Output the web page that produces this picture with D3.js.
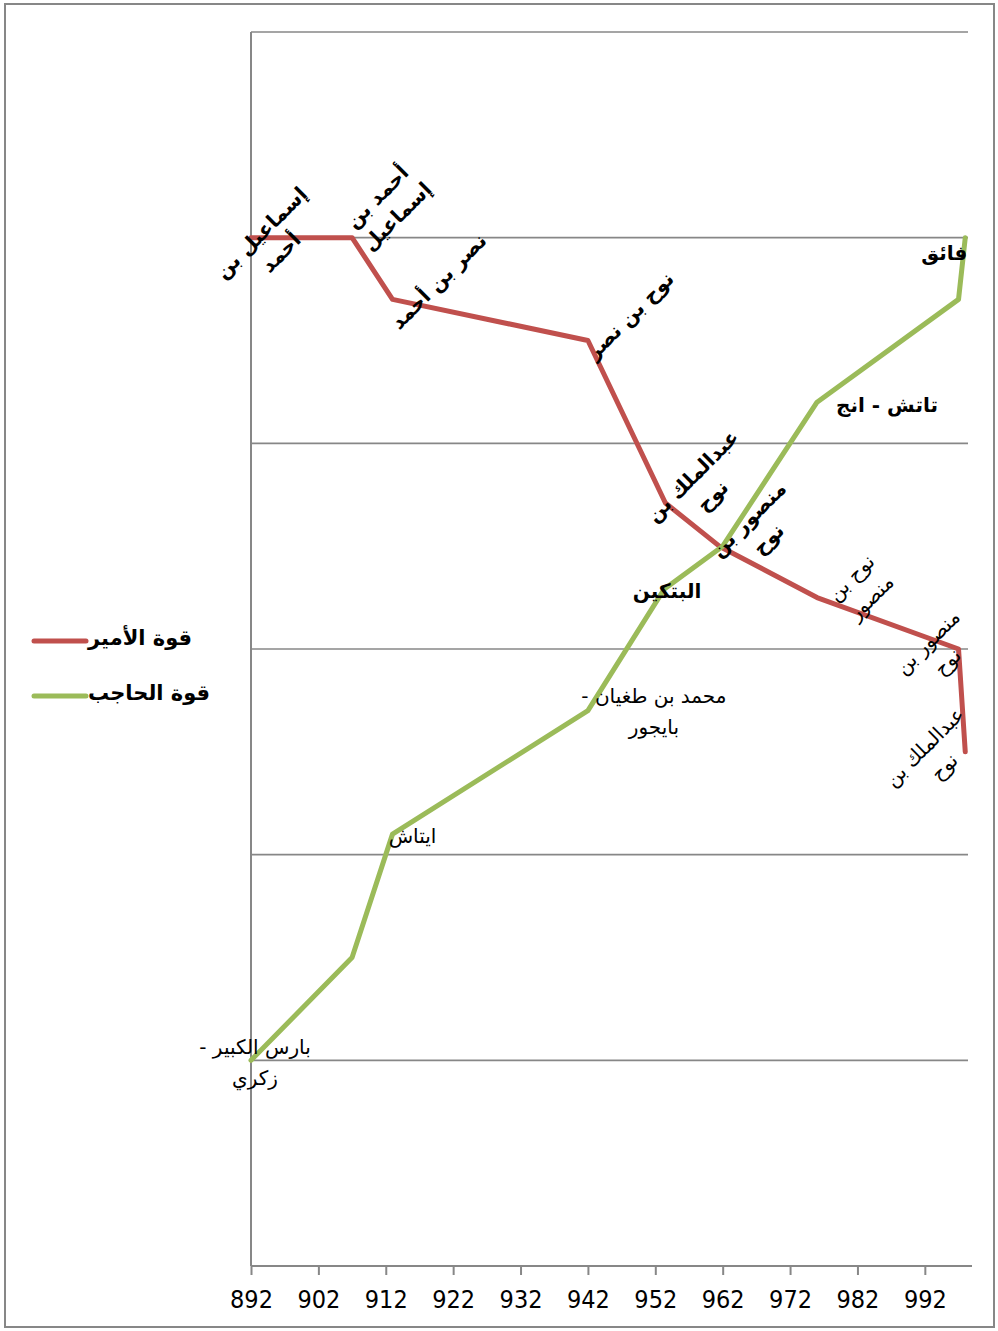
<!DOCTYPE html>
<html>
<head>
<meta charset="utf-8">
<script src="https://cdn.jsdelivr.net/npm/d3@7"></script>
<style>
  html, body { margin: 0; padding: 0; background: #fff; }
  svg { display: block; }
</style>
</head>
<body>
<svg id="chart" width="998" height="1331"></svg>
<script>
// ---------- data ----------
const seriesNames = ["قوة الأمير", "قوة الحاجب"];
const xTicks = [892, 902, 912, 922, 932, 942, 952, 962, 972, 982, 992];

const amirYears  = [892, 907, 913, 942, 953.5, 961.5, 976, 997, 998];
const amirValues = [5.0, 5.0, 4.7, 4.5, 3.71, 3.5, 3.25, 3.0, 2.5];
const amirLabels = [
  ["إسماعيل بن", "أحمد"],
  ["أحمد بن", "إسماعيل"],
  ["نصر بن أحمد"],
  ["نوح بن نصر"],
  ["عبدالملك بن", "نوح"],
  ["منصور بن", "نوح"],
  ["نوح بن", "منصور"],
  ["منصور بن", "نوح"],
  ["عبدالملك بن", "نوح"]
];

const hajibYears  = [892, 907, 913, 942, 953.3, 962, 976, 997, 998];
const hajibValues = [1.0, 1.5, 2.1, 2.7, 3.29, 3.5, 4.2, 4.7, 5.0];
const hajibLabels = [
  ["بارس الكبير -", "زكري"],
  [],
  ["ايتاش"],
  ["محمد بن طغيان -", "بايجور"],
  ["البتكين"],
  [],
  ["تاتش - انج"],
  [],
  ["فائق"]
];

// ---------- layout (label placement relative to point, styling) ----------
const amirLabelLayout = [
  {dx: 20, dy: 5, bold: true},
  {dx: 35, dy: -31, bold: true},
  {dx: 46, dy: -18, bold: true},
  {dx: 42, dy: -25, bold: true},
  {dx: 37, dy: -17, bold: true},
  {dx: 39, dy: -17, bold: true},
  {dx: 44, dy: -10, bold: false},
  {dx: -21, dy: 3, bold: false},
  {dx: -31, dy: 5, bold: false}
];
const hajibLabelLayout = [
  {dx: 4, dy: 2, bold: false},
  null,
  {dx: 20, dy: 2, bold: false},
  {dx: 66, dy: 1, bold: false},
  {dx: 3, dy: 2, bold: true},
  null,
  {dx: 70, dy: 3, bold: true},
  null,
  {dx: -21, dy: 15, bold: true}
];

const colors = ["#C0504D", "#9BBB59"];
const gridColor = "#878787";
const arabicFont = "'DejaVu Sans', 'Noto Sans', Arial, sans-serif";

const svg = d3.select("#chart");

// outer frame
svg.append("rect")
  .attr("x", 5).attr("y", 4).attr("width", 989).attr("height", 1323)
  .attr("fill", "none").attr("stroke", gridColor).attr("stroke-width", 2);

const x = d3.scaleLinear().domain([892, 999]).range([251, 972]);
const y = d3.scaleLinear().domain([0, 6]).range([1266, 32]);

// gridlines
svg.append("g")
  .selectAll("line")
  .data(d3.range(1, 7))
  .join("line")
  .attr("x1", x(892)).attr("x2", 968)
  .attr("y1", d => y(d)).attr("y2", d => y(d))
  .attr("stroke", gridColor).attr("stroke-width", 1.6);

// y axis line
svg.append("line")
  .attr("x1", x(892)).attr("x2", x(892))
  .attr("y1", y(6)).attr("y2", y(0))
  .attr("stroke", gridColor).attr("stroke-width", 2);

// x axis
const xAxis = d3.axisBottom(x)
  .tickValues(xTicks)
  .tickSize(9)
  .tickPadding(15)
  .tickFormat(d3.format("d"));
const gx = svg.append("g")
  .attr("transform", `translate(0,${y(0)})`)
  .call(xAxis);
gx.select(".domain")
  .attr("d", `M${x(892)},0H${x(999)}`)
  .attr("stroke", gridColor).attr("stroke-width", 2);
gx.selectAll(".tick line").attr("stroke", gridColor).attr("stroke-width", 2);
gx.selectAll(".tick text")
  .attr("fill", "#000")
  .style("font-family", "'Liberation Sans Narrow', 'DejaVu Sans Condensed', 'Arial Narrow', sans-serif")
  .style("font-size", "25px");

// lines
const line = d3.line().x(d => x(d[0])).y(d => y(d[1]));
const amirPts = amirYears.map((yr, i) => [yr, amirValues[i]]);
const hajibPts = hajibYears.map((yr, i) => [yr, hajibValues[i]]);

[amirPts, hajibPts].forEach((pts, i) => {
  svg.append("path")
    .datum(pts)
    .attr("d", line)
    .attr("fill", "none")
    .attr("stroke", colors[i])
    .attr("stroke-width", 5)
    .attr("stroke-linejoin", "round")
    .attr("stroke-linecap", "round");
});

// labels
function drawLabel(cx, cy, lines, bold, rotate, lineH, size) {
  const g = svg.append("g").attr("transform", `translate(${cx},${cy}) rotate(${rotate})`);
  const t = g.append("text")
    .attr("text-anchor", "middle")
    .attr("direction", "rtl")
    .style("direction", "rtl")
    .style("font-family", arabicFont)
    .style("font-size", size + "px")
    .style("font-weight", bold ? "bold" : "normal")
    .attr("fill", "#000");
  const n = lines.length;
  lines.forEach((s, k) => {
    t.append("tspan")
      .attr("x", 0)
      .attr("y", (k - (n - 1) / 2) * lineH)
      .attr("dominant-baseline", "central")
      .text(s);
  });
}

amirPts.forEach((p, i) => {
  const L = amirLabelLayout[i];
  drawLabel(x(p[0]) + L.dx, y(p[1]) + L.dy, amirLabels[i], L.bold, -45, 28, 20);
});
hajibPts.forEach((p, i) => {
  const L = hajibLabelLayout[i];
  if (!L || hajibLabels[i].length === 0) return;
  drawLabel(x(p[0]) + L.dx, y(p[1]) + L.dy, hajibLabels[i], L.bold, 0, 31, 20);
});

// legend
const legend = svg.append("g");
[641, 696].forEach((ly, i) => {
  legend.append("line")
    .attr("x1", 34).attr("x2", 86)
    .attr("y1", ly).attr("y2", ly)
    .attr("stroke", colors[i]).attr("stroke-width", 5)
    .attr("stroke-linecap", "round");
  legend.append("text")
    .attr("x", 88).attr("y", ly - 3)
    .attr("dominant-baseline", "central")
    .attr("text-anchor", "start")
    .style("font-family", arabicFont)
    .style("font-size", "21px")
    .style("font-weight", "bold")
    .attr("fill", "#000")
    .text(seriesNames[i]);
});
</script>
</body>
</html>
